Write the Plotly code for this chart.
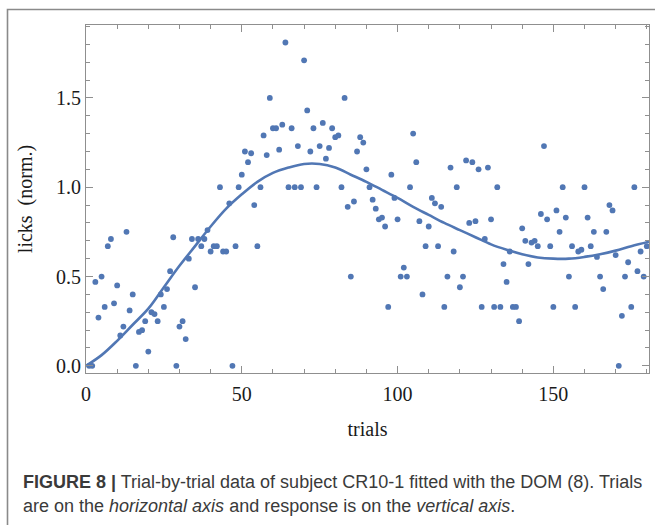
import plotly.graph_objects as go

# ---- data ----
trials = list(range(1, 181))
licks = [
    0.00, 0.00, 0.47, 0.27, 0.50, 0.33, 0.67, 0.71, 0.35, 0.45,
    0.17, 0.22, 0.75, 0.31, 0.40, 0.00, 0.19, 0.20, 0.25, 0.08,
    0.30, 0.29, 0.25, 0.40, 0.33, 0.43, 0.53, 0.72, 0.00, 0.22,
    0.25, 0.15, 0.60, 0.71, 0.44, 0.71, 0.67, 0.71, 0.76, 0.64,
    0.67, 0.67, 1.00, 0.64, 0.64, 0.91, 0.00, 0.67, 1.00, 1.07,
    1.20, 1.14, 1.19, 0.90, 0.67, 1.00, 1.29, 1.18, 1.50, 1.33,
    1.33, 1.21, 1.35, 1.81, 1.00, 1.33, 1.00, 1.23, 1.00, 1.71,
    1.43, 1.20, 1.33, 1.00, 1.23, 1.36, 1.16, 1.22, 1.33, 1.28,
    1.29, 1.00, 1.50, 0.89, 0.50, 0.92, 1.20, 1.28, 1.25, 1.10,
    1.00, 0.93, 0.88, 0.82, 0.83, 0.78, 0.33, 1.07, 0.94, 0.82,
    0.50, 0.55, 0.50, 1.00, 1.30, 1.14, 0.81, 0.40, 0.67, 0.78,
    0.94, 0.91, 0.67, 0.89, 0.33, 0.50, 1.11, 0.64, 1.00, 0.44,
    0.50, 1.15, 0.80, 1.14, 0.81, 1.10, 0.33, 0.71, 1.11, 0.82,
    0.33, 1.00, 0.33, 0.57, 0.47, 0.64, 0.33, 0.33, 0.25, 0.77,
    0.70, 0.57, 0.69, 0.70, 0.67, 0.85, 1.23, 0.82, 0.67, 0.33,
    0.87, 0.75, 1.00, 0.83, 0.50, 0.67, 0.33, 0.64, 0.65, 1.00,
    0.83, 0.67, 0.75, 0.61, 0.50, 0.43, 0.75, 0.90, 0.87, 0.62,
    0.00, 0.28, 0.50, 0.58, 0.33, 1.00, 0.53, 0.64, 0.50, 0.67,
]

fit_x = [0, 5, 10, 15, 20, 25, 30, 35, 40, 45, 50, 55, 60, 65, 70, 75,
         80, 85, 90, 95, 100, 105, 110, 115, 120, 125, 130, 135, 140, 145,
         150, 155, 160, 165, 170, 175, 180.7]
fit_y = [0.00, 0.06, 0.14, 0.23, 0.32, 0.44, 0.56, 0.67, 0.78, 0.88,
         0.96, 1.03, 1.08, 1.11, 1.13, 1.13, 1.11, 1.07, 1.03, 0.985,
         0.94, 0.89, 0.845, 0.80, 0.76, 0.72, 0.68, 0.65, 0.625, 0.607,
         0.60, 0.60, 0.61, 0.625, 0.645, 0.67, 0.695]

x_ticks = [0, 50, 100, 150]
y_ticks = [0.0, 0.5, 1.0, 1.5]

caption1 = "<b>FIGURE 8 |</b> Trial-by-trial data of subject CR10-1 fitted with the DOM (8). Trials"
caption2 = "are on the <i>horizontal axis</i> and response is on the <i>vertical axis</i>."

BLUE = "#5177B4"
FRAME = "#8f8f8f"

W, H = 655, 525
ML, MR, MT, MB = 86, 6, 25, 152
PW, PH = W - ML - MR, H - MT - MB


def px(x):
    return (x - ML) / PW


def py(y):
    return (H - MB - y) / PH


fig = go.Figure()
fig.add_trace(go.Scatter(x=trials, y=licks, mode="markers",
                         marker=dict(size=5.8, color=BLUE),
                         cliponaxis=False, showlegend=False))
fig.add_trace(go.Scatter(x=fit_x, y=fit_y, mode="lines",
                         line=dict(color=BLUE, width=2.6, shape="spline", smoothing=1.0),
                         showlegend=False))

serif = dict(family="Liberation Serif", size=20, color="#1a1a1a")
axis_common = dict(showline=True, linecolor=FRAME, linewidth=1, mirror="allticks",
                   ticks="inside", ticklen=7, tickwidth=1, tickcolor=FRAME,
                   showgrid=False, zeroline=False, tickfont=serif)

fig.update_xaxes(range=[0, 180.7], tickmode="array", tickvals=x_ticks,
                 ticktext=[str(v) for v in x_ticks], ticklabelstandoff=3,
                 minor=dict(tick0=0, dtick=10, ticks="inside", ticklen=4, tickcolor=FRAME),
                 title=dict(text="trials", font=serif, standoff=17),
                 **axis_common)
fig.update_yaxes(range=[-0.04, 1.908], tickmode="array", tickvals=y_ticks,
                 ticktext=[f"{v:.1f}" for v in y_ticks],
                 minor=dict(tick0=0, dtick=0.1, ticks="inside", ticklen=4, tickcolor=FRAME),
                 title=dict(text="licks  (norm.)", font=serif, standoff=18),
                 **axis_common)

cap_font = dict(family="Liberation Sans", size=18, color="#3a3a3a")
fig.update_layout(
    width=W, height=H,
    margin=dict(l=ML, r=MR, t=MT, b=MB, autoexpand=False),
    paper_bgcolor="white", plot_bgcolor="white",
    annotations=[
        dict(text=caption1, x=px(21), y=py(482), xref="paper", yref="paper",
             xanchor="left", yanchor="middle", showarrow=False, font=cap_font),
        dict(text=caption2, x=px(21), y=py(506), xref="paper", yref="paper",
             xanchor="left", yanchor="middle", showarrow=False, font=cap_font),
    ],
    shapes=[
        dict(type="rect", xref="paper", yref="paper",
             x0=px(7.5), x1=px(720), y0=py(9.5), y1=py(600),
             line=dict(color="#8a8a8a", width=1.6), fillcolor="rgba(0,0,0,0)",
             layer="below"),
    ],
)

fig.write_html("out.html", config={"displayModeBar": False},
               post_script="document.body.style.margin='0px';")
